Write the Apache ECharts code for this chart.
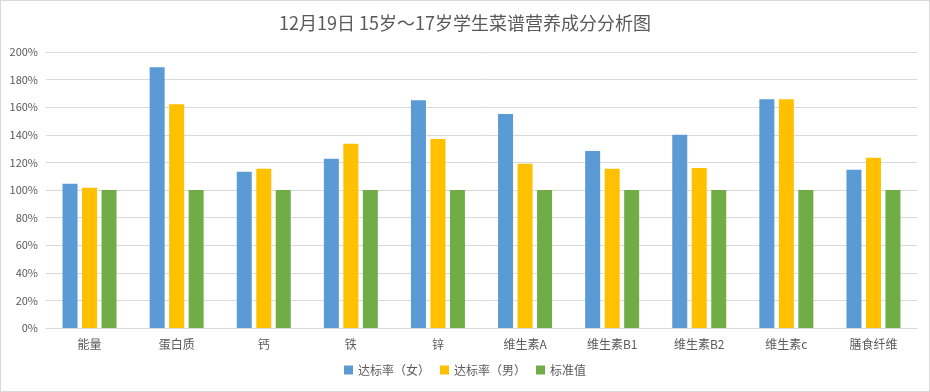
<!DOCTYPE html>
<html><head><meta charset="utf-8">
<script src="https://cdn.jsdelivr.net/npm/echarts@6/dist/echarts.min.js"></script>
<style>html,body{margin:0;padding:0;background:#fff}#c{width:928px;height:390px;border:1px solid #d9d9d9}</style>
</head><body><div id="c"></div>
<script>
var categories = ['能量','蛋白质','钙','铁','锌','维生素A','维生素B1','维生素B2','维生素c','膳食纤维'];
var female = [104.5,188.9,113.2,122.6,165.1,155.0,128.3,140.0,165.8,114.6];
var male = [101.7,162.2,115.4,133.5,137.0,119.0,115.4,116.0,165.8,123.3];
var standard = [100,100,100,100,100,100,100,100,100,100];
var seriesNames = ['达标率（女）','达标率（男）','标准值'];
var colors = ['#5B9BD5','#FFC000','#70AD47'];
var font = '"Noto Sans CJK SC", "Noto Sans", sans-serif';
var chart = echarts.init(document.getElementById('c'));
var data = [female, male, standard];
chart.setOption({
  animation:false,
  textStyle:{fontFamily:font},
  title:{text:'12月19日 15岁～17岁学生菜谱营养成分分析图',left:'center',top:8,
    textStyle:{fontSize:18,fontWeight:'normal',color:'#595959',fontFamily:font}},
  legend:{bottom:10,itemWidth:9,itemHeight:9,itemGap:10,icon:'rect',
    textStyle:{fontSize:12,color:'#595959',fontFamily:font},data:seriesNames},
  grid:{left:45,right:12,top:51,bottom:63},
  xAxis:{type:'category',data:categories,
    axisLine:{lineStyle:{color:'#d9d9d9'}},axisTick:{show:false},
    axisLabel:{color:'#595959',fontSize:12,margin:10}},
  yAxis:{type:'value',min:0,max:200,interval:20,
    axisLine:{show:false},axisTick:{show:false},
    axisLabel:{formatter:'{value}%',color:'#595959',fontSize:11},
    splitLine:{lineStyle:{color:'#d9d9d9'}}},
  series: seriesNames.map(function(n,i){return {name:n,type:'bar',data:data[i],barWidth:15,barGap:'30%',itemStyle:{color:colors[i]}};})
});
</script></body></html>
